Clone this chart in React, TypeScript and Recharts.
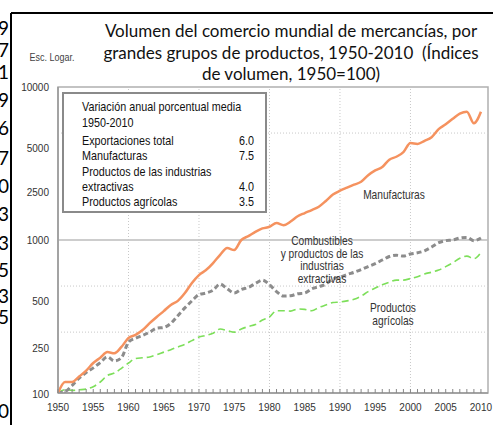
import { LineChart, Line, XAxis, YAxis, ReferenceLine, ReferenceArea } from 'recharts';

// años e índices de volumen (1950 = 100)
const years = [
  1950, 1951, 1952, 1953, 1954, 1955, 1956, 1957, 1958, 1959,
  1960, 1961, 1962, 1963, 1964, 1965, 1966, 1967, 1968, 1969,
  1970, 1971, 1972, 1973, 1974, 1975, 1976, 1977, 1978, 1979,
  1980, 1981, 1982, 1983, 1984, 1985, 1986, 1987, 1988, 1989,
  1990, 1991, 1992, 1993, 1994, 1995, 1996, 1997, 1998, 1999,
  2000, 2001, 2002, 2003, 2004, 2005, 2006, 2007, 2008, 2009,
  2010,
];

const manufacturas = [
  100, 118, 118, 128, 140, 157, 170, 185, 182, 200,
  229, 240, 258, 286, 314, 343, 376, 400, 450, 524,
  590, 636, 707, 800, 886, 860, 1000, 1060, 1130, 1190,
  1220, 1290, 1250, 1320, 1430, 1500, 1570, 1650, 1800, 1980,
  2100, 2200, 2300, 2400, 2650, 2850, 3000, 3350, 3500, 3750,
  4300, 4240, 4450, 4700, 5300, 5700, 6200, 6700, 6900, 5800,
  6900,
];

const combustibles = [
  100, 102, 112, 125, 136, 146, 158, 172, 162, 170,
  215, 228, 238, 250, 265, 268, 285, 320, 360, 400,
  440, 450, 470, 515, 480, 450, 475, 490, 520, 547,
  510, 460, 430, 432, 445, 450, 480, 495, 515, 555,
  570, 595, 615, 640, 670, 700, 740, 780, 795, 785,
  810, 825, 850, 900, 960, 990, 1000, 1030, 1040, 990,
  1030,
];

const agricolas = [
  100, 105, 104, 105, 106, 110, 118, 130, 135, 145,
  157, 168, 170, 172, 178, 185, 192, 200, 208, 220,
  232, 238, 246, 262, 256, 250, 262, 272, 280, 300,
  314, 345, 345, 343, 354, 352, 345, 362, 376, 390,
  393, 400, 410, 430, 460, 485, 510, 530, 547, 547,
  560, 575, 600, 616, 636, 670, 710, 760, 785, 755,
  830,
];

const yTicks = [100, 250, 500, 1000, 2500, 5000, 10000];
const dottedGridY = [250, 500, 5000];
const gridYears = [1960, 1970, 1980, 1990, 2000];

const titleLines = [
  'Volumen del comercio mundial de mercancías, por',
  'grandes grupos de productos, 1950-2010  (Índices',
  'de volumen, 1950=100)',
];

const boxHeader = ['Variación anual porcentual media', '1950-2010'];
const boxRows = [
  { label: ['Exportaciones total'], value: '6.0' },
  { label: ['Manufacturas'], value: '7.5' },
  { label: ['Productos de las industrias', 'extractivas'], value: '4.0' },
  { label: ['Productos agrícolas'], value: '3.5' },
];

const combLabel = ['Combustibles', 'y productos de las', 'industrias', 'extractivas'];
const agriLabel = ['Productos', 'agrícolas'];

// restos de una columna recortada a la izquierda
const sideDigits = ['9', '7', '1', '9', '6', '7', '0', '3', '3', '5', '3', '5', '0'];
const sideDigitY = [35, 57, 79, 107, 135, 165, 193, 221, 250, 277, 303, 324, 418];

const data = years.map((year, i) => ({
  year,
  manuf: manufacturas[i],
  comb: combustibles[i],
  agri: agricolas[i],
}));

const ARIAL = '"Liberation Sans", Arial, sans-serif';

// etiquetas del eje Y desplazadas como en el original
const yLabelShift: Record<number, number> = {
  10000: 0, 5000: 15, 2500: 13, 1000: 0, 500: 15, 250: 16, 100: 1,
};

function YTick(props: any) {
  const { x, y, payload } = props;
  return (
    <text x={x} y={y + (yLabelShift[payload.value] ?? 0)} dy={3.5} textAnchor="end" fontSize={10} fill="#333" fontFamily={ARIAL}>
      {payload.value}
    </text>
  );
}

function XTick(props: any) {
  const { x, y, payload } = props;
  const yr = payload.value as number;
  return (
    <g>
      <line x1={x} x2={x} y1={y} y2={y - 4} stroke="#888" strokeWidth={1} />
      {yr % 5 === 0 && (
        <text x={x} y={y + 18} textAnchor="middle" fontSize={10} fill="#333" fontFamily={ARIAL}>
          {yr}
        </text>
      )}
    </g>
  );
}

function Narrow({ x, y, children, anchor = 'start', size = 13, sx = 0.83, fill = '#111' }: any) {
  return (
    <text transform={`translate(${x} ${y}) scale(${sx} 1)`} fontSize={size} textAnchor={anchor} fill={fill} fontFamily={ARIAL}>
      {children}
    </text>
  );
}

export default function App() {
  let rowY = 145;
  return (
    <div style={{ position: 'absolute', left: 0, top: 0, width: 493, height: 425, background: '#fff', overflow: 'hidden' }}>
      <LineChart width={493} height={425} data={data} margin={{ top: 87, right: 5, bottom: 7, left: 8 }}>
        <ReferenceArea x1={1950} x2={2011} y1={100} y2={10000} fill="none" stroke="#b0b0b0" strokeWidth={1.5} />
        {dottedGridY.map((v) => (
          <ReferenceLine key={v} y={v} stroke="#c8c8c8" strokeDasharray="1 2" />
        ))}
        <ReferenceLine y={1000} stroke="#bdbdbd" strokeWidth={1.5} />
        {gridYears.map((yr) => (
          <ReferenceLine key={yr} x={yr} stroke="#c8c8c8" strokeDasharray="1 2" />
        ))}
        <XAxis
          dataKey="year"
          type="number"
          domain={[1950, 2011]}
          ticks={years}
          interval={0}
          tick={<XTick />}
          tickLine={false}
          tickSize={0}
          tickMargin={0}
          height={25}
          axisLine={{ stroke: '#999', strokeWidth: 1.5 }}
        />
        <YAxis
          type="number"
          scale="log"
          domain={[100, 10000]}
          ticks={yTicks}
          interval={0}
          tick={<YTick />}
          tickLine={false}
          tickSize={0}
          tickMargin={9}
          width={50}
          allowDataOverflow
          axisLine={{ stroke: '#999', strokeWidth: 1.5 }}
        />
        <Line dataKey="agri" type="monotone" stroke="#7ddf5a" strokeWidth={1.6} strokeDasharray="7 4" dot={false} isAnimationActive={false} />
        <Line dataKey="comb" type="monotone" stroke="#8c8c8c" strokeWidth={3} strokeDasharray="5 3" dot={false} isAnimationActive={false} />
        <Line dataKey="manuf" type="monotone" stroke="#f5925f" strokeWidth={2.5} dot={false} isAnimationActive={false} />
      </LineChart>

      <svg width={493} height={425} style={{ position: 'absolute', left: 0, top: 0, pointerEvents: 'none' }}>
        {/* marco recortado */}
        <line x1={11} x2={493} y1={13} y2={13} stroke="#000" strokeWidth={2} />
        <line x1={11} x2={11} y1={13} y2={425} stroke="#000" strokeWidth={2} />
        {sideDigits.map((d, i) => (
          <text key={i} x={9} y={sideDigitY[i]} textAnchor="end" fontSize={19} fill="#000" fontFamily="Lato, sans-serif">
            {d}
          </text>
        ))}

        {titleLines.map((t, i) => (
          <text key={i} x={291} y={37 + i * 21.5} textAnchor="middle" fontSize={17} fill="#111" fontFamily="Lato, sans-serif" style={{ whiteSpace: 'pre' }}>
            {t}
          </text>
        ))}
        <Narrow x={52} y={61} anchor="middle" size={10} sx={0.9} fill="#444">Esc. Logar.</Narrow>

        {/* recuadro de variación anual */}
        <rect x={63} y={93} width={203} height={119} fill="#fff" stroke="#8a8a8a" strokeWidth={2} />
        <Narrow x={82} y={111}>{boxHeader[0]}</Narrow>
        <Narrow x={82} y={127}>{boxHeader[1]}</Narrow>
        {boxRows.map((r, i) => {
          const y0 = rowY;
          rowY += r.label.length * 15.3;
          return (
            <g key={i}>
              {r.label.map((l, j) => (
                <Narrow key={j} x={82} y={y0 + j * 15.3}>{l}</Narrow>
              ))}
              <Narrow x={239} y={y0 + (r.label.length - 1) * 15.3}>{r.value}</Narrow>
            </g>
          );
        })}

        <Narrow x={394} y={199} anchor="middle" size={12} sx={0.85} fill="#333">Manufacturas</Narrow>
        {combLabel.map((l, i) => (
          <Narrow key={i} x={322} y={245 + i * 12.5} anchor="middle" size={12} sx={0.85} fill="#333">{l}</Narrow>
        ))}
        {agriLabel.map((l, i) => (
          <Narrow key={i} x={393} y={312 + i * 13} anchor="middle" size={12} sx={0.85} fill="#333">{l}</Narrow>
        ))}
      </svg>
    </div>
  );
}
